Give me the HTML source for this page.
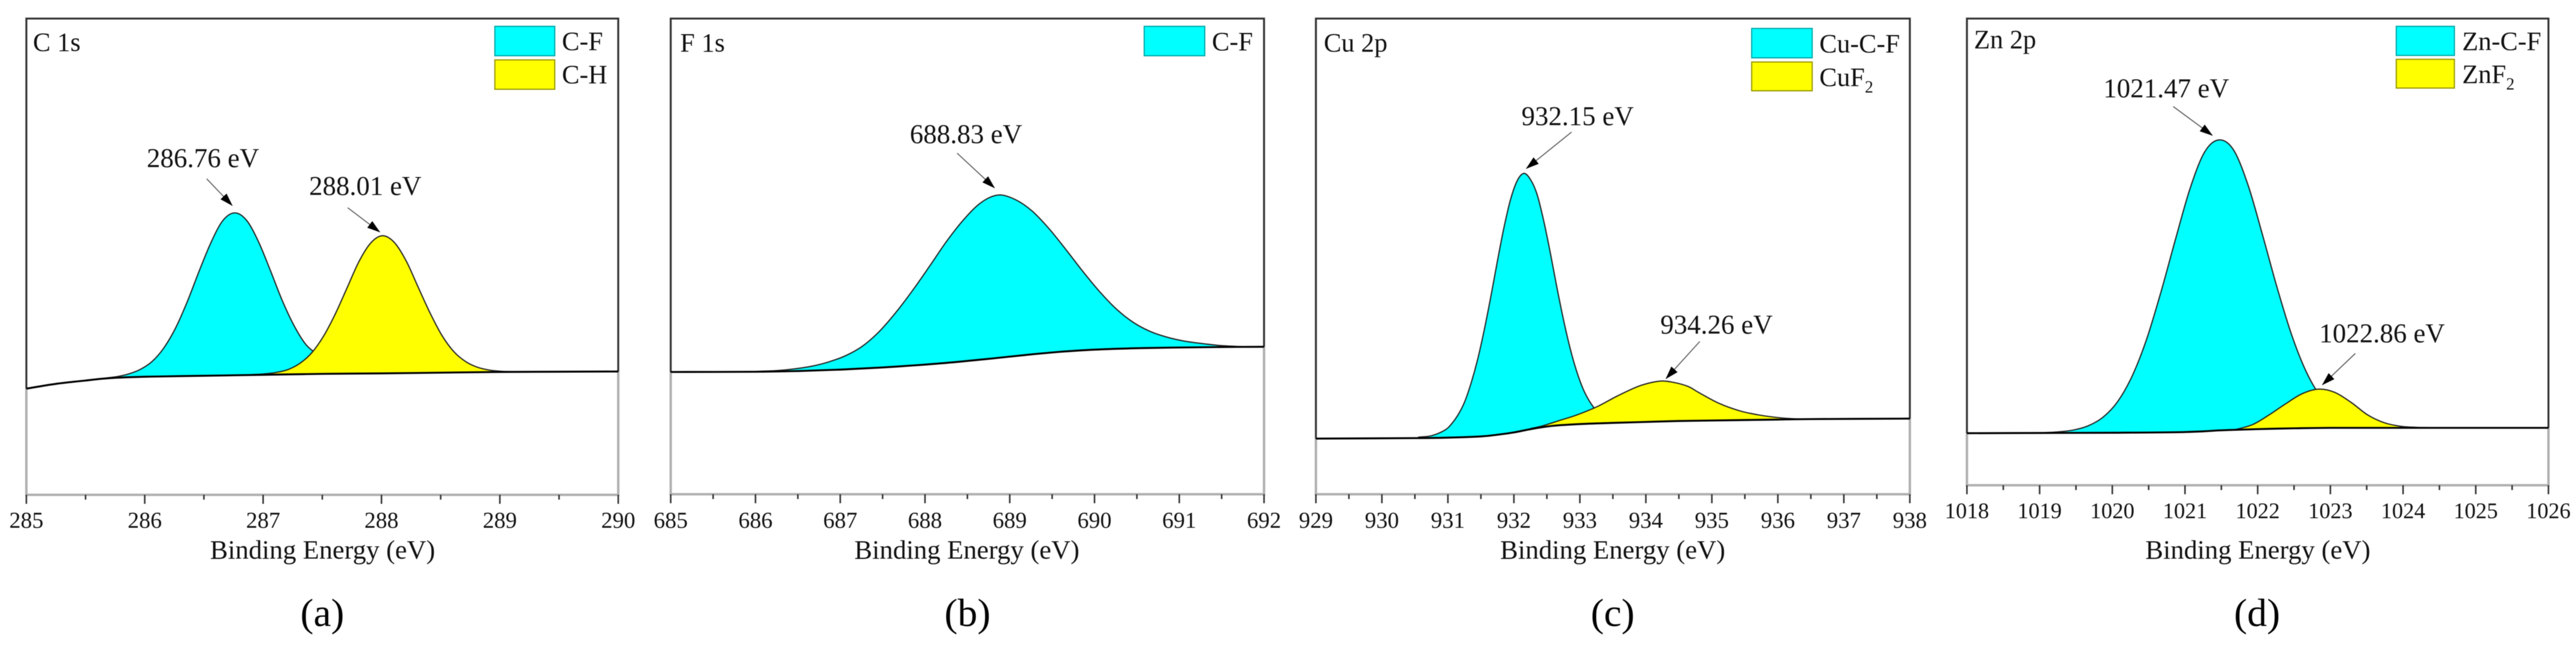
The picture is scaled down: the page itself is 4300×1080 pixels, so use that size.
<!DOCTYPE html>
<html lang="en">
<head>
<meta charset="utf-8">
<title>XPS spectra</title>
<style>
html,body{margin:0;padding:0;background:#fff;width:4300px;height:1080px;overflow:hidden}
svg{display:block;filter:blur(0.6px)}
text{font-family:"Liberation Serif",serif;fill:#111}
.lab{font-size:45px}
.leg{font-size:44px}
.cap{font-size:66px;text-anchor:middle;fill:#000}
.axt{font-size:44.6px;text-anchor:middle}
.ann{stroke:#555;stroke-width:1.6;fill:none;marker-end:url(#arrow-head)}
.swc{fill:#00ffff;stroke:#00a8a8;stroke-width:2}
.swy{fill:#ffff00;stroke:#999900;stroke-width:2}
</style>
</head>
<body>
<svg id="chart" xmlns="http://www.w3.org/2000/svg" width="4300" height="1080" viewBox="0 0 4300 1080">
<defs>
<marker id="arrow-head" markerUnits="userSpaceOnUse" markerWidth="24" markerHeight="16" refX="21" refY="7" orient="auto">
<path d="M0,0 L22,7 L0,14 Z" fill="#000"/>
</marker>
</defs>
<rect width="4300" height="1080" fill="#fff"/>

<g id="plot-a"></g>
<g id="plot-b"></g>
<g id="plot-c"></g>
<g id="plot-d"></g>

<g>
<text class="leg" x="55" y="85">C 1s</text>
<rect class="swc" x="826" y="44" width="100" height="49"/>
<rect class="swy" x="826" y="100" width="100" height="49"/>
<text class="leg" x="938" y="83.5">C-F</text>
<text class="leg" x="938" y="139">C-H</text>
<text class="lab" x="245" y="279">286.76 eV</text>
<line class="ann" x1="345" y1="298.4" x2="387.6" y2="343"/>
<text class="lab" x="516" y="325.3">288.01 eV</text>
<line class="ann" x1="580.4" y1="346.7" x2="633.9" y2="387.3"/>
<text class="cap" x="538" y="1045">(a)</text>
</g>

<g>
<text class="leg" x="1135.4" y="86">F 1s</text>
<rect class="swc" x="1910" y="44" width="101" height="49"/>
<text class="leg" x="2023" y="84">C-F</text>
<text class="lab" x="1518.8" y="239">688.83 eV</text>
<line class="ann" x1="1597.7" y1="255.7" x2="1660" y2="313.6"/>
<text class="cap" x="1615" y="1045">(b)</text>
</g>

<g>
<text class="leg" x="2209.7" y="86">Cu 2p</text>
<rect class="swc" x="2924" y="47.5" width="101" height="49"/>
<rect class="swy" x="2924" y="103.5" width="101" height="48"/>
<text class="leg" x="3037" y="87.5">Cu-C-F</text>
<text class="leg" x="3037" y="143.3">CuF<tspan font-size="28" dy="11">2</tspan></text>
<text class="lab" x="2539.7" y="208.8">932.15 eV</text>
<line class="ann" x1="2623.3" y1="220.5" x2="2547.9" y2="281.2"/>
<text class="lab" x="2771.5" y="556.9">934.26 eV</text>
<line class="ann" x1="2837.4" y1="570" x2="2781" y2="632"/>
<text class="cap" x="2692" y="1045">(c)</text>
</g>

<g>
<text class="leg" x="3295" y="80.6">Zn 2p</text>
<rect class="swc" x="4000" y="44" width="97" height="48.5"/>
<rect class="swy" x="4000" y="99" width="97" height="48"/>
<text class="leg" x="4110" y="83.3">Zn-C-F</text>
<text class="leg" x="4110" y="138.3">ZnF<tspan font-size="28" dy="11">2</tspan></text>
<text class="lab" x="3511" y="162.6">1021.47 eV</text>
<line class="ann" x1="3627.7" y1="177.8" x2="3692.9" y2="226"/>
<text class="lab" x="3871.2" y="571.3">1022.86 eV</text>
<line class="ann" x1="3931.6" y1="590" x2="3876.7" y2="642.3"/>
<text class="cap" x="3767.6" y="1045">(d)</text>
</g>
</svg>

<script>
// ---- Panel (a) C 1s : energies in eV, intensities in % of axis height ----
const aTicks = [285, 286, 287, 288, 289, 290];
const aBgEnergy = [285, 285.25, 285.5, 285.7, 286, 286.5, 287, 287.5, 288, 288.5, 289, 290];
const aBgIntensity = [22.3, 23.3, 24.0, 24.5, 24.8, 25.0, 25.2, 25.4, 25.5, 25.65, 25.8, 25.9];
const aCFEnergy = [285.66, 285.76, 285.86, 285.96, 286.06, 286.16, 286.26, 286.36, 286.46, 286.56, 286.66, 286.76, 286.86, 286.96, 287.06, 287.16, 287.26, 287.36, 287.46, 287.56, 287.66, 287.76];
const aCFIntensity = [24.5, 24.8, 25.35, 26.3, 27.95, 30.8, 35.0, 40.6, 47.0, 53.0, 57.6, 59.2, 57.65, 53.2, 47.2, 40.9, 35.6, 31.6, 29.4, 27.2, 26.2, 25.7];
const aCHEnergy = [286.91, 287.01, 287.11, 287.21, 287.31, 287.41, 287.51, 287.61, 287.71, 287.81, 287.91, 288.01, 288.11, 288.21, 288.31, 288.41, 288.51, 288.61, 288.71, 288.81, 288.91, 289.01, 289.11, 289.21];
const aCHIntensity = [25.25, 25.4, 25.7, 26.3, 27.6, 29.8, 33.3, 38.0, 43.5, 49.0, 52.9, 54.4, 52.95, 49.05, 43.6, 38.2, 33.5, 30.1, 28.0, 26.8, 26.2, 25.95, 25.85, 25.85];

// ---- Panel (b) F 1s ----
const bTicks = [685, 686, 687, 688, 689, 690, 691, 692];
const bBgEnergy = [685, 686, 686.5, 687, 687.5, 688, 688.4, 688.8, 689.2, 689.6, 690, 690.5, 691, 691.5, 692];
const bBgIntensity = [25.7, 25.75, 25.9, 26.2, 26.65, 27.25, 27.85, 28.55, 29.3, 29.95, 30.4, 30.7, 30.85, 30.95, 31.0];
const bCFEnergy = [685.86, 686.06, 686.26, 686.46, 686.66, 686.86, 687.06, 687.26, 687.46, 687.66, 687.86, 688.06, 688.26, 688.46, 688.66, 688.86, 689.06, 689.26, 689.46, 689.66, 689.86, 690.06, 690.26, 690.46, 690.66, 690.86, 691.06, 691.26, 691.46, 691.66, 691.86];
const bCFIntensity = [25.8, 25.85, 26.0, 26.35, 26.9, 27.8, 29.1, 31.1, 34.2, 38.3, 43.0, 48.1, 53.3, 57.8, 61.3, 62.9, 62.0, 59.6, 55.9, 51.5, 46.9, 42.6, 38.9, 36.1, 34.2, 33.0, 32.2, 31.7, 31.3, 31.1, 31.0];

// ---- Panel (c) Cu 2p ----
const cTicks = [929, 930, 931, 932, 933, 934, 935, 936, 937, 938];
const cBgEnergy = [929, 930.5, 931, 931.5, 931.8, 932, 932.3, 932.6, 933, 933.5, 934, 934.5, 935, 935.5, 936, 936.5, 938];
const cBgIntensity = [11.7, 11.8, 11.9, 12.15, 12.6, 13.0, 13.8, 14.4, 14.75, 15.0, 15.2, 15.4, 15.5, 15.6, 15.7, 15.8, 15.9];
const cCuCFEnergy = [930.55, 930.75, 930.95, 931.05, 931.15, 931.25, 931.35, 931.45, 931.55, 931.65, 931.75, 931.85, 931.95, 932.05, 932.15, 932.25, 932.35, 932.45, 932.55, 932.65, 932.75, 932.85, 932.95, 933.05, 933.15, 933.25, 933.35, 933.55];
const cCuCFIntensity = [12.0, 12.3, 13.45, 14.7, 16.6, 19.3, 23.3, 28.3, 34.5, 41.5, 49.0, 56.1, 62.0, 65.9, 67.45, 66.2, 63.1, 57.6, 50.9, 43.6, 36.8, 30.8, 25.9, 22.1, 19.45, 17.6, 16.5, 15.4];
const cCuF2Energy = [932.25, 932.44, 932.69, 932.94, 933.26, 933.56, 933.87, 934.09, 934.26, 934.46, 934.65, 934.8, 935.11, 935.43, 935.74, 936.05, 936.36, 936.61];
const cCuF2Intensity = [13.8, 14.4, 15.5, 16.6, 18.4, 20.6, 22.6, 23.5, 23.8, 23.4, 22.6, 21.4, 19.1, 17.5, 16.6, 16.05, 15.8, 15.8];

// ---- Panel (d) Zn 2p ----
const dTicks = [1018, 1019, 1020, 1021, 1022, 1023, 1024, 1025, 1026];
const dBgEnergy = [1018, 1019, 1020, 1021, 1021.5, 1022, 1022.5, 1023, 1024, 1026];
const dBgIntensity = [11.15, 11.2, 11.25, 11.4, 11.77, 12.03, 12.2, 12.3, 12.3, 12.3];
const dZnCFEnergy = [1019.07, 1019.27, 1019.47, 1019.67, 1019.87, 1020.07, 1020.27, 1020.47, 1020.67, 1020.87, 1021.07, 1021.27, 1021.47, 1021.67, 1021.87, 1022.07, 1022.27, 1022.47, 1022.67, 1022.87, 1023.07, 1023.27];
const dZnCFIntensity = [11.28, 11.45, 11.85, 12.75, 14.55, 17.85, 23.3, 31.2, 41.45, 52.75, 63.6, 71.4, 74.0, 71.8, 64.2, 53.45, 42.2, 32.1, 24.25, 18.9, 15.6, 13.8];
const dZnF2Energy = [1021.7, 1021.93, 1022.15, 1022.38, 1022.61, 1022.84, 1023.06, 1023.29, 1023.51, 1023.74, 1023.96, 1024.19, 1024.42];
const dZnF2Intensity = [11.95, 13.0, 15.0, 17.4, 19.6, 20.6, 19.9, 17.7, 15.1, 13.4, 12.65, 12.4, 12.3];

const NS = 'http://www.w3.org/2000/svg';

function make(parent, tag, attrs, name) {
  const el = document.createElementNS(NS, tag);
  for (const k in attrs) el.setAttribute(k, attrs[k]);
  
  
  parent.appendChild(el);
  return el;
}

function xAxis(ticks, left, right) {
  const lo = ticks[0], hi = ticks[ticks.length - 1];
  return function (v) { return left + (v - lo) / (hi - lo) * (right - left); };
}
function yAxis(top, bottom) {
  return function (v) { return bottom - v / 100 * (bottom - top); };
}

// Smooth Catmull-Rom path segments through screen points
function smooth(pts) {
  let d = '';
  for (let i = 0; i < pts.length - 1; i++) {
    const p0 = pts[Math.max(i - 1, 0)], p1 = pts[i], p2 = pts[i + 1], p3 = pts[Math.min(i + 2, pts.length - 1)];
    const c1x = p1[0] + (p2[0] - p0[0]) / 6, c1y = p1[1] + (p2[1] - p0[1]) / 6;
    const c2x = p2[0] - (p3[0] - p1[0]) / 6, c2y = p2[1] - (p3[1] - p1[1]) / 6;
    d += 'C' + c1x.toFixed(2) + ',' + c1y.toFixed(2) + ' ' + c2x.toFixed(2) + ',' + c2y.toFixed(2) + ' ' + p2[0].toFixed(2) + ',' + p2[1].toFixed(2);
  }
  return d;
}

function drawPanel(cfg) {
  const g = document.getElementById(cfg.id);
  const x = xAxis(cfg.ticks, cfg.left, cfg.right);
  const y = yAxis(cfg.top, cfg.bottom);
  const bgStartY = y(cfg.bgI[0]), bgEndY = y(cfg.bgI[cfg.bgI.length - 1]);

  // frame: light lower segments and axis, dark upper segments
  make(g, 'rect', {x: cfg.left, y: cfg.top, width: cfg.right - cfg.left, height: cfg.bottom - cfg.top, fill: 'none', stroke: '#b0b0b0', 'stroke-width': 4}, cfg.key + '-frame');
  make(g, 'path', {d: 'M' + cfg.left + ',' + bgStartY + ' V' + cfg.top + ' H' + cfg.right + ' V' + bgEndY, fill: 'none', stroke: '#2a2a2a', 'stroke-width': 2.6}, cfg.key + '-frame-upper');

  // ticks
  const step = cfg.ticks[1] - cfg.ticks[0];
  cfg.ticks.forEach(function (t, i) {
    const px = x(t);
    make(g, 'line', {x1: px, x2: px, y1: cfg.bottom, y2: cfg.bottom + 15, stroke: '#333', 'stroke-width': 2.6}, cfg.key + '-major-tick');
    const label = make(g, 'text', {x: px, y: cfg.bottom + cfg.labelGap, 'font-size': cfg.tickFont, 'text-anchor': 'middle'}, cfg.key + '-tick-label');
    label.textContent = String(t);
    if (i < cfg.ticks.length - 1) {
      const mx = x(t + step / 2);
      make(g, 'line', {x1: mx, x2: mx, y1: cfg.bottom, y2: cfg.bottom + 8, stroke: '#333', 'stroke-width': 2.6}, cfg.key + '-minor-tick');
    }
  });

  const title = make(g, 'text', {x: cfg.titleX, y: 932.5, class: 'axt'}, cfg.key + '-x-axis-title');
  title.textContent = 'Binding Energy (eV)';

  const bgPts = cfg.bgE.map(function (e, i) { return [x(e), y(cfg.bgI[i])]; });

  // peaks: filled between curve and background
  cfg.peaks.forEach(function (pk) {
    const pts = pk.e.map(function (e, i) { return [x(e), y(pk.i[i])]; });
    const lo = pk.e[0], hi = pk.e[pk.e.length - 1];
    const under = [];
    cfg.bgE.forEach(function (e, i) { if (e > lo && e < hi) under.push(bgPts[i]); });
    under.reverse();
    let d = 'M' + pts[0][0] + ',' + pts[0][1] + smooth(pts);
    under.forEach(function (p) { d += 'L' + p[0] + ',' + p[1]; });
    d += 'Z';
    make(g, 'path', {d: d, fill: pk.color, stroke: 'none'}, cfg.key + '-' + pk.name + '-fill');
    make(g, 'path', {d: 'M' + pts[0][0] + ',' + pts[0][1] + smooth(pts), fill: 'none', stroke: '#222', 'stroke-width': 2}, cfg.key + '-' + pk.name + '-curve');
  });

  // background line
  make(g, 'path', {d: 'M' + bgPts[0][0] + ',' + bgPts[0][1] + smooth(bgPts), fill: 'none', stroke: '#000', 'stroke-width': 3.2}, cfg.key + '-background-line');
}

drawPanel({id: 'plot-a', key: 'panel-a', left: 44, right: 1032, top: 31, bottom: 826, ticks: aTicks, tickFont: 38, labelGap: 55, titleX: 538.5, bgE: aBgEnergy, bgI: aBgIntensity,
  peaks: [{name: 'c-f', e: aCFEnergy, i: aCFIntensity, color: '#00ffff'}, {name: 'c-h', e: aCHEnergy, i: aCHIntensity, color: '#ffff00'}]});
drawPanel({id: 'plot-b', key: 'panel-b', left: 1119.6, right: 2110, top: 31, bottom: 825, ticks: bTicks, tickFont: 38, labelGap: 56, titleX: 1614, bgE: bBgEnergy, bgI: bBgIntensity,
  peaks: [{name: 'c-f', e: bCFEnergy, i: bCFIntensity, color: '#00ffff'}]});
drawPanel({id: 'plot-c', key: 'panel-c', left: 2196.6, right: 3188, top: 31, bottom: 825, ticks: cTicks, tickFont: 38, labelGap: 56, titleX: 2692, bgE: cBgEnergy, bgI: cBgIntensity,
  peaks: [{name: 'cu-c-f', e: cCuCFEnergy, i: cCuCFIntensity, color: '#00ffff'}, {name: 'cuf2', e: cCuF2Energy, i: cCuF2Intensity, color: '#ffff00'}]});
drawPanel({id: 'plot-d', key: 'panel-d', left: 3283.3, right: 4254, top: 31, bottom: 810, ticks: dTicks, tickFont: 37, labelGap: 55, titleX: 3769, bgE: dBgEnergy, bgI: dBgIntensity,
  peaks: [{name: 'zn-c-f', e: dZnCFEnergy, i: dZnCFIntensity, color: '#00ffff'}, {name: 'znf2', e: dZnF2Energy, i: dZnF2Intensity, color: '#ffff00'}]});
</script>
</body>
</html>
